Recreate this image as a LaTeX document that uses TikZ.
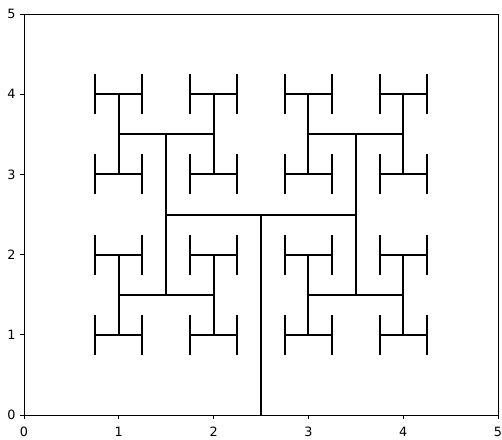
\documentclass[tikz,border=0pt]{standalone}
\usepackage{fontspec}
\setmainfont{DejaVu Sans}

\tikzset{
  branch/.style = {line width=1pt},
  frame/.style = {line width=0.45pt},
  ticklabel/.style = {font=\fontsize{6.4}{7}\selectfont, inner sep=0pt}
}

\begin{document}
\begin{tikzpicture}[x=47.4pt, y=40.1pt]
    \useasboundingbox (-0.253,-0.299) rectangle (5.042,5.175);

    % axes box and ticks
    \draw[frame] (0,0) rectangle (5,5);
    \foreach \t in {0,...,5} {
        \draw[frame] (\t,0) -- ++(0,-0.045);
        \node[ticklabel, anchor=north] at (\t,-0.15) {\t};
        \draw[frame] (0,\t) -- ++(-0.038,0);
        \node[ticklabel, anchor=east] at (-0.084,\t) {\t};
    }

    % trunk
    \draw[branch] (2.5,0) -- (2.5,2.5);

    % first H
    \draw[branch] (1.5,2.5) -- (3.5,2.5)
                  (1.5,1.5) -- (1.5,3.5)
                  (3.5,1.5) -- (3.5,3.5);

    % second level
    \foreach \cx in {1.5,3.5} {
        \foreach \cy in {1.5,3.5} {
            \draw[branch] (\cx-0.5,\cy) -- (\cx+0.5,\cy)
                          (\cx-0.5,\cy-0.5) -- (\cx-0.5,\cy+0.5)
                          (\cx+0.5,\cy-0.5) -- (\cx+0.5,\cy+0.5);
        }
    }

    % third level
    \foreach \cx in {1,...,4} {
        \foreach \cy in {1,...,4} {
            \draw[branch] (\cx-0.25,\cy) -- (\cx+0.25,\cy)
                          (\cx-0.25,\cy-0.25) -- (\cx-0.25,\cy+0.25)
                          (\cx+0.25,\cy-0.25) -- (\cx+0.25,\cy+0.25);
        }
    }

\end{tikzpicture}
\end{document}
